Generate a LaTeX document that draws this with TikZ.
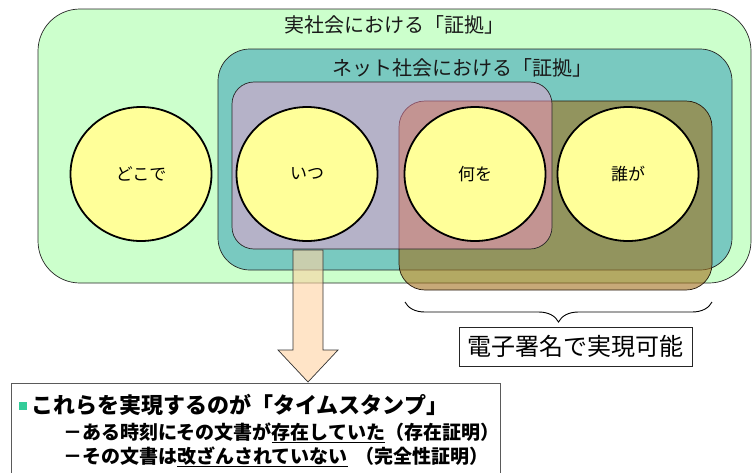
\documentclass[tikz,border=0pt]{standalone}
\usepackage{fontspec}
\setmainfont{Noto Sans CJK JP}
\usetikzlibrary{decorations.pathreplacing,shapes.geometric}
\definecolor{cgreen}{RGB}{204,255,204}
\definecolor{cteal}{RGB}{121,201,192}
\definecolor{colive}{RGB}{163,113,30}
\definecolor{cpurple}{RGB}{255,150,210}
\definecolor{cyellow}{RGB}{255,255,153}
\definecolor{cpeach}{RGB}{255,210,163}
\definecolor{cbullet}{RGB}{51,204,153}
\definecolor{cframe}{RGB}{90,90,90}
\newcommand\myul[1]{\setbox0\hbox{#1}\rlap{\rule[-3.5pt]{\wd0}{1.1pt}}\box0}
\tikzset{
  region/.style={draw=black!85, line width=0.7pt},
  disc/.style={ellipse, draw=black, line width=1.8pt, fill=cyellow, minimum width=141pt, minimum height=134pt, inner sep=0pt, font=\fontsize{17}{20}\selectfont},
  ttl/.style={inner sep=0pt, text=black!90, font=\fontsize{20}{24}\selectfont},
  bodytext/.style={inner sep=0pt, anchor=west, font=\fontsize{19}{22}\selectfont\bfseries},
}
\begin{document}
\begin{tikzpicture}[x=1pt,y=-1pt]
\useasboundingbox (0,0) rectangle (752,472);
\fill[white] (0,0) rectangle (752,472);
% regions
\draw[region, fill=cgreen, rounded corners=42pt] (38,9) rectangle (751,283);
\draw[region, fill=cteal, rounded corners=32pt] (218,49) rectangle (732,270);
\draw[region, draw=black!80!brown, fill=colive, fill opacity=0.6, rounded corners=26pt] (399,101) rectangle (712,290);
\draw[region, fill=cpurple, fill opacity=0.45, rounded corners=22pt] (232,82) rectangle (552,249);
% titles
\node[ttl] (t1) at (394,25) {実社会における「証拠」};
\node[ttl] (t2) at (462,68) {ネット社会における「証拠」};
% circles
\node[disc] (c1) at (141,174) {どこで};
\node[disc] (c2) at (307,174) {いつ};
\node[disc] (c3) at (475,174) {何を};
\node[disc] (c4) at (628,174) {誰が};
% arrow
\draw[draw=black!80, line width=0.7pt, fill=cpeach, fill opacity=0.6]
  (293,250) -- (323,250) -- (323,350) -- (338,350) -- (308,382) -- (278,350) -- (293,350) -- cycle;
% brace
\coordinate (bl) at (405,302);
\coordinate (br) at (712,302);
\draw[line width=0.9pt, decorate, decoration={brace, mirror, amplitude=20pt}] (bl) -- (br);
\node[draw=black!85, line width=0.8pt, minimum width=233pt, minimum height=39pt, inner sep=0pt, font=\fontsize{24}{28}\selectfont] (sig) at (575.5,346.5) {電子署名で実現可能};
% bottom box
\draw[draw=cframe, line width=0.8pt, fill=white] (11,383) rectangle (500,480);
\fill[cbullet] (19,402) rectangle (27,410);
\node[bodytext, font=\fontsize{22}{26}\selectfont\bfseries] (l1) at (31,405) {これらを実現するのが「タイムスタンプ」};
\node[bodytext] (l2) at (63,433) {－ある時刻にその文書が\myul{存在していた}（存在証明）};
\node[bodytext] (l3) at (63,457) {－その文書は\myul{改ざんされていない}\hspace{0.4em}（完全性証明）};
\end{tikzpicture}
\end{document}
